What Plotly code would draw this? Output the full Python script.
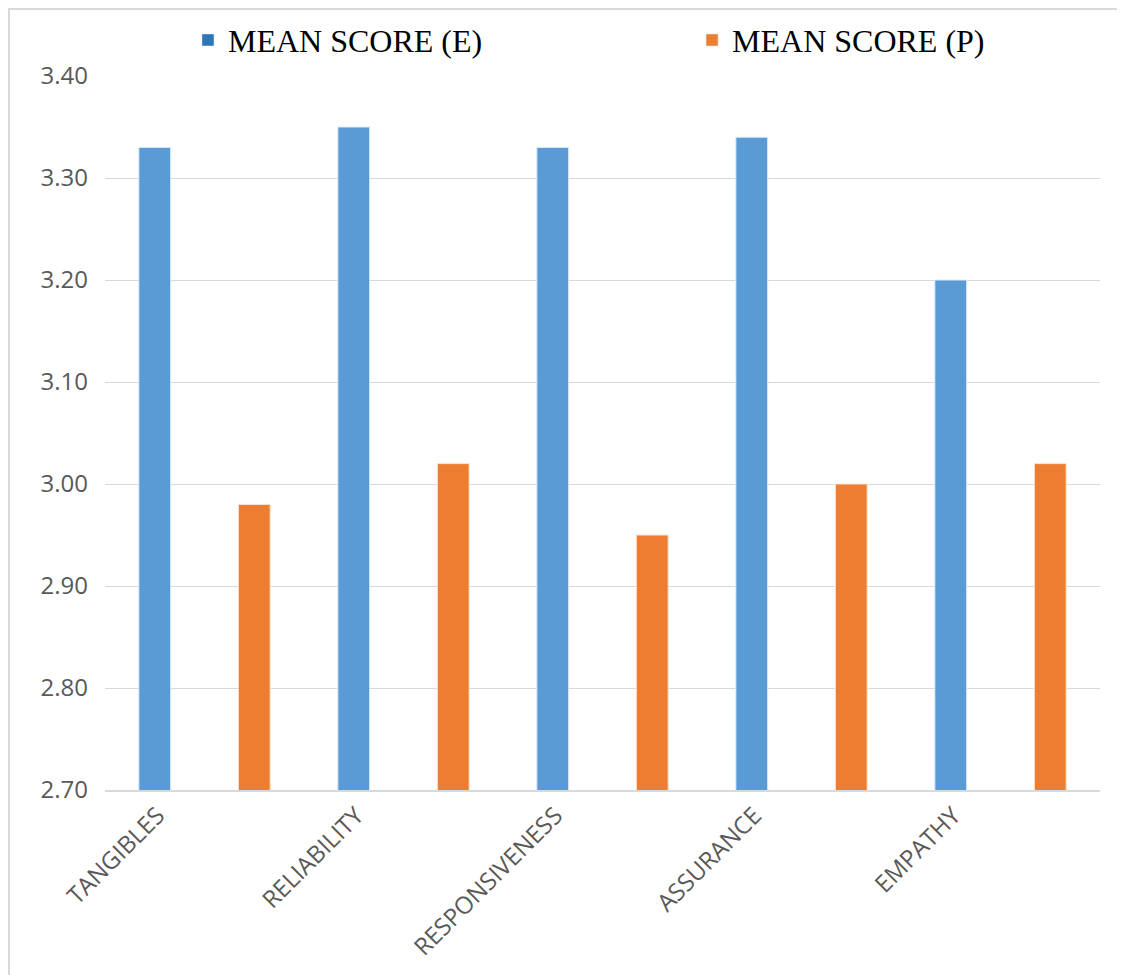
import plotly.graph_objects as go

categories = ["TANGIBLES", "RELIABILITY", "RESPONSIVENESS", "ASSURANCE", "EMPATHY"]
mean_e = [3.33, 3.35, 3.33, 3.34, 3.20]
mean_p = [2.98, 3.02, 2.95, 3.00, 3.02]
series_names = ["MEAN SCORE (E)", "MEAN SCORE (P)"]
y_ticks = [2.70, 2.80, 2.90, 3.00, 3.10, 3.20, 3.30, 3.40]

BAR_BLUE = "#5B9BD5"
BAR_ORANGE = "#ED7D31"
LEG_BLUE = "#2E75B6"
GRID = "#D9D9D9"
TXT = "#595959"

fig = go.Figure()
fig.add_trace(go.Bar(x=categories, y=mean_e, name=series_names[0], width=0.16, offset=-0.33,
                     marker=dict(color=BAR_BLUE, line=dict(color="#DDEBF7", width=1)),
                     showlegend=False))
fig.add_trace(go.Bar(x=categories, y=mean_p, name=series_names[1], width=0.16, offset=0.17,
                     marker=dict(color=BAR_ORANGE, line=dict(color="#FBE5D6", width=1)),
                     showlegend=False))
# legend entries
fig.add_trace(go.Bar(x=[None], y=[None], name=series_names[0], marker=dict(color=LEG_BLUE),
                     legend="legend"))
fig.add_trace(go.Bar(x=[None], y=[None], name=series_names[1], marker=dict(color=BAR_ORANGE),
                     legend="legend2"))

leg_font = dict(family="Liberation Serif", size=32, color="black")
fig.update_layout(
    width=1125, height=975,
    margin=dict(l=97, r=33, t=68, b=193, autoexpand=False),
    paper_bgcolor="white", plot_bgcolor="white",
    barmode="overlay",
    legend=dict(orientation="h", x=0.0834, xanchor="left", y=0.967, yanchor="middle",
                yref="container", font=leg_font, itemclick=False, bgcolor="rgba(0,0,0,0)"),
    legend2=dict(orientation="h", x=0.59, xanchor="left", y=0.967, yanchor="middle",
                 yref="container", font=leg_font, itemclick=False, bgcolor="rgba(0,0,0,0)"),
    font=dict(family="Open Sans", color=TXT),
    shapes=[dict(type="rect", xref="paper", yref="paper",
                 x0=-0.0965, x1=1.06, y0=-0.3, y1=1.0938,
                 line=dict(color=GRID, width=2), fillcolor="rgba(0,0,0,0)", layer="below")],
)
fig.update_xaxes(type="category", tickangle=-45, ticklabelshift=-47, automargin=False,
                 tickfont=dict(family="Open Sans", size=24, color=TXT),
                 showline=True, linecolor=GRID, linewidth=2, ticks="", showgrid=False)
fig.update_yaxes(range=[2.70, 3.40], tickvals=y_ticks, tickformat=".2f", automargin=False,
                 tickfont=dict(family="Open Sans", size=24, color=TXT),
                 showgrid=True, gridcolor=GRID, gridwidth=1, zeroline=False,
                 showline=False, ticks="", ticklabelstandoff=16)

fig.write_html("out.html")
